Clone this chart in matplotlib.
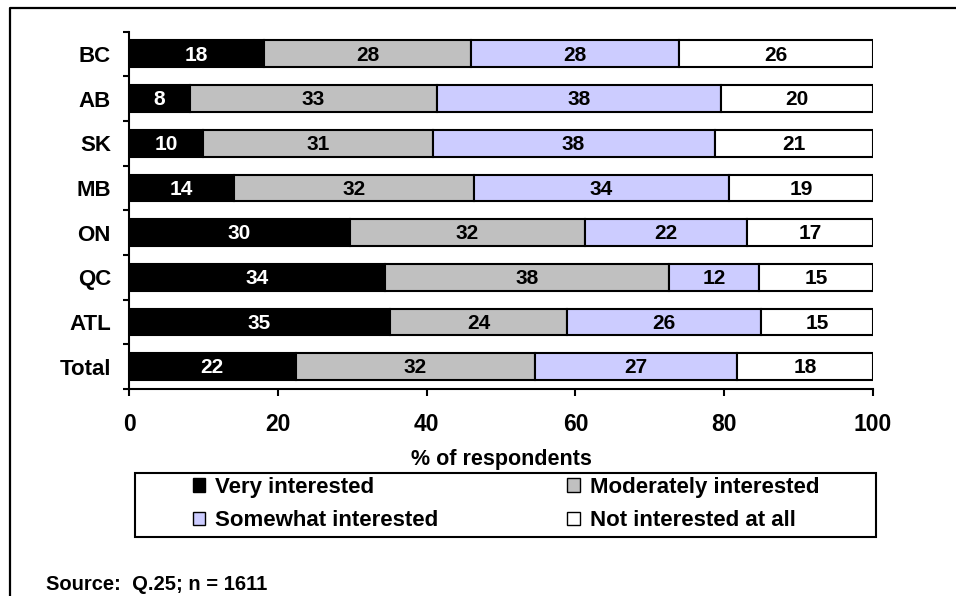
import numpy as np
import matplotlib
matplotlib.use("Agg")
import matplotlib.pyplot as plt
from matplotlib.patches import Patch, Rectangle
from matplotlib.lines import Line2D

plt.rcParams['font.family'] = ['Liberation Sans', 'DejaVu Sans']
plt.rcParams['font.weight'] = 'bold'

regions = ["BC", "AB", "SK", "MB", "ON", "QC", "ATL", "Total"]
# unrounded shares (labels show them rounded)
very = [18.1, 8.2, 10.0, 14.1, 29.7, 34.4, 35.1, 22.4]
moderately = [27.9, 33.2, 30.8, 32.3, 31.6, 38.2, 23.8, 32.2]
somewhat = [27.9, 38.2, 37.9, 34.2, 21.8, 12.1, 26.0, 27.1]
not_at_all = [26.1, 20.4, 21.3, 19.4, 16.9, 15.3, 15.1, 18.3]

series_names = ["Very interested", "Moderately interested",
                "Somewhat interested", "Not interested at all"]
series_colors = ["#000000", "#C0C0C0", "#CCCCFF", "#FFFFFF"]
text_colors = ["white", "black", "black", "black"]

W, H = 956, 596
fig = plt.figure(figsize=(W / 100, H / 100), dpi=100)
ax = fig.add_axes([129 / W, 1 - 389 / H, (873 - 129) / W, (389 - 31.5) / H])

y = np.arange(len(regions))
left = np.zeros(len(regions))
for vals, name, col, tcol in zip([very, moderately, somewhat, not_at_all],
                                 series_names, series_colors, text_colors):
    vals = np.array(vals, dtype=float)
    ax.barh(y, vals, left=left, height=0.6, color=col, edgecolor="black",
            linewidth=1.5, label=name)
    for yi, l, v in zip(y, left, vals):
        ax.text(l + v / 2, yi + 0.03, f"{v:.0f}", ha="center", va="center",
                color=tcol, fontsize=15, fontweight="bold")
    left += vals

ax.set_xlim(0, 100)
ax.set_ylim(len(regions) - 0.5, -0.5)
ax.set_xticks([0, 20, 40, 60, 80, 100])
ax.set_yticks(y)
ax.set_yticklabels(regions)
ax.set_yticks(np.arange(-0.5, len(regions), 1), minor=True)
ax.tick_params(axis="y", which="major", length=0, pad=13, labelsize=16)
ax.tick_params(axis="y", which="minor", length=4, width=1.5, direction="out")
ax.tick_params(axis="x", length=5, width=1.5, direction="out", pad=12,
               labelsize=16.5)
for lab in ax.get_xticklabels() + ax.get_yticklabels():
    lab.set_fontweight("bold")
for s in ["top", "right"]:
    ax.spines[s].set_visible(False)
for s in ["left", "bottom"]:
    ax.spines[s].set_linewidth(1.5)

fig.text(501 / W, 1 - 459 / H, "% of respondents", ha="center", va="center",
         fontsize=15.5, fontweight="bold")

# legend box
fig.patches.append(Rectangle((135 / W, 1 - 537 / H), (876 - 135) / W, (537 - 473) / H,
                             transform=fig.transFigure, fill=False,
                             edgecolor="black", linewidth=1.5))
handles = [Patch(facecolor=series_colors[i], edgecolor="black", linewidth=1)
           for i in [0, 2, 1, 3]]
labels = [series_names[i] for i in [0, 2, 1, 3]]
fig.legend(handles, labels, ncol=2, loc="upper left",
           bbox_to_anchor=(193 / W, 1 - 477 / H), frameon=False,
           borderpad=0, borderaxespad=0, handlelength=0.55, handleheight=0.55,
           handletextpad=0.45, columnspacing=5.8, labelspacing=0.55,
           prop={"size": 16, "weight": "bold"})

fig.text(46 / W, 1 - 585 / H, "Source:  Q.25; n = 1611", ha="left",
         va="center", fontsize=14.5, fontweight="bold")

# page frame
fig.lines.append(Line2D([10 / W, 10 / W, 1.0], [0.0, 1 - 7.5 / H, 1 - 7.5 / H],
                        transform=fig.transFigure, color="black", linewidth=1.6))

fig.savefig("out.png", dpi=100)
